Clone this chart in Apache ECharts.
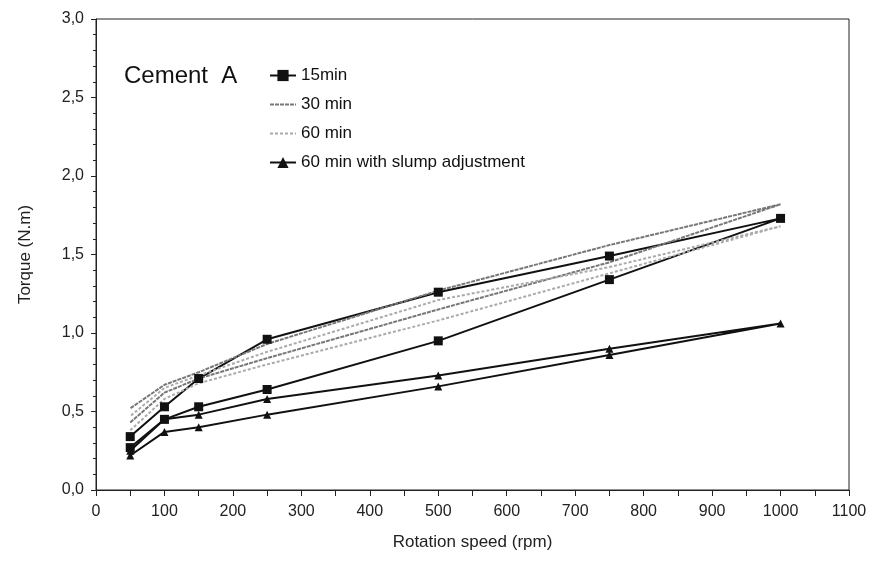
<!DOCTYPE html>
<html>
<head>
<meta charset="utf-8">
<script src="https://cdn.jsdelivr.net/npm/echarts@6/dist/echarts.min.js"></script>
<style>
  html, body { margin: 0; padding: 0; background: #fff; }
  #main { width: 877px; height: 562px; }
</style>
</head>
<body>
<div id="main"></div>
<script>
// loop: up curve 50 -> 1000, then down curve back to 50
var rpm = [50, 100, 150, 250, 500, 750, 1000, 750, 500, 250, 150, 100, 50];
var torque15 = [0.27, 0.45, 0.53, 0.64, 0.95, 1.34, 1.73, 1.49, 1.26, 0.96, 0.71, 0.53, 0.34];
var torque30 = [0.43, 0.62, 0.71, 0.84, 1.15, 1.45, 1.82, 1.56, 1.27, 0.93, 0.75, 0.67, 0.52];
var torque60 = [0.38, 0.58, 0.68, 0.80, 1.08, 1.38, 1.68, 1.42, 1.21, 0.88, 0.73, 0.65, 0.47];
var torqueSlump = [0.22, 0.37, 0.40, 0.48, 0.66, 0.86, 1.06, 0.90, 0.73, 0.58, 0.48, 0.45, 0.25];
var names = ['15min', '30 min', '60 min', '60 min with slump adjustment'];

function pairs(ys) {
  return rpm.map(function (x, i) { return [x, ys[i]]; });
}

var font = 'Liberation Sans, Arial, sans-serif';
var chart = echarts.init(document.getElementById('main'));

var option = {
  animation: false,
  backgroundColor: '#fff',
  textStyle: { fontFamily: font },
  title: {
    text: 'Cement  A',
    left: 119, top: 59,
    textStyle: { fontFamily: font, fontSize: 24, fontWeight: 'normal', color: '#111' }
  },
  legend: {
    orient: 'vertical',
    left: 264, top: 62,
    itemWidth: 26, itemHeight: 14, itemGap: 12,
    textStyle: { fontFamily: font, fontSize: 17, color: '#111' },
    data: [
      { name: names[0], itemStyle: { opacity: 1 } },
      { name: names[1], itemStyle: { opacity: 0 } },
      { name: names[2], itemStyle: { opacity: 0 } },
      { name: names[3], itemStyle: { opacity: 1 } }
    ]
  },
  grid: { left: 96, right: 28, top: 19, bottom: 72, show: true, borderColor: '#222', borderWidth: 1 },
  xAxis: {
    type: 'value', min: 0, max: 1100, interval: 100,
    name: 'Rotation speed (rpm)', nameLocation: 'middle', nameGap: 44,
    nameTextStyle: { fontFamily: font, fontSize: 17, color: '#222' },
    axisLine: { lineStyle: { color: '#222' } },
    axisTick: { lineStyle: { color: '#222' }, length: 6 },
    minorTick: { show: true, splitNumber: 2, length: 6, lineStyle: { color: '#222' } },
    axisLabel: {
      fontFamily: font, fontSize: 16, color: '#222', margin: 14,
      formatter: function (v) { return String(v); }
    },
    splitLine: { show: false }
  },
  yAxis: {
    type: 'value', min: 0, max: 3, interval: 0.5,
    name: 'Torque (N.m)', nameLocation: 'middle', nameGap: 62,
    nameTextStyle: { fontFamily: font, fontSize: 17, color: '#222' },
    axisLine: { lineStyle: { color: '#222' } },
    axisTick: { lineStyle: { color: '#222' }, length: 5 },
    minorTick: { show: true, splitNumber: 5, length: 3, lineStyle: { color: '#222' } },
    axisLabel: {
      fontFamily: font, fontSize: 16, color: '#222', margin: 12,
      formatter: function (v) { return v.toFixed(1).replace('.', ','); }
    },
    splitLine: { show: false }
  },
  series: [
    {
      name: names[0], type: 'line', data: pairs(torque15),
      symbol: 'rect', symbolSize: 9, color: '#111',
      lineStyle: { color: '#111', width: 2 }
    },
    {
      name: names[1], type: 'line', data: pairs(torque30),
      symbol: 'none', color: '#777',
      lineStyle: { color: '#777', width: 2, type: [4, 1] }
    },
    {
      name: names[2], type: 'line', data: pairs(torque60),
      symbol: 'none', color: '#aaa',
      lineStyle: { color: '#aaa', width: 2, type: [3, 2] }
    },
    {
      name: names[3], type: 'line', data: pairs(torqueSlump),
      symbol: 'triangle', symbolSize: 8, color: '#111',
      lineStyle: { color: '#111', width: 2 }
    }
  ]
};
chart.setOption(option);
</script>
</body>
</html>
